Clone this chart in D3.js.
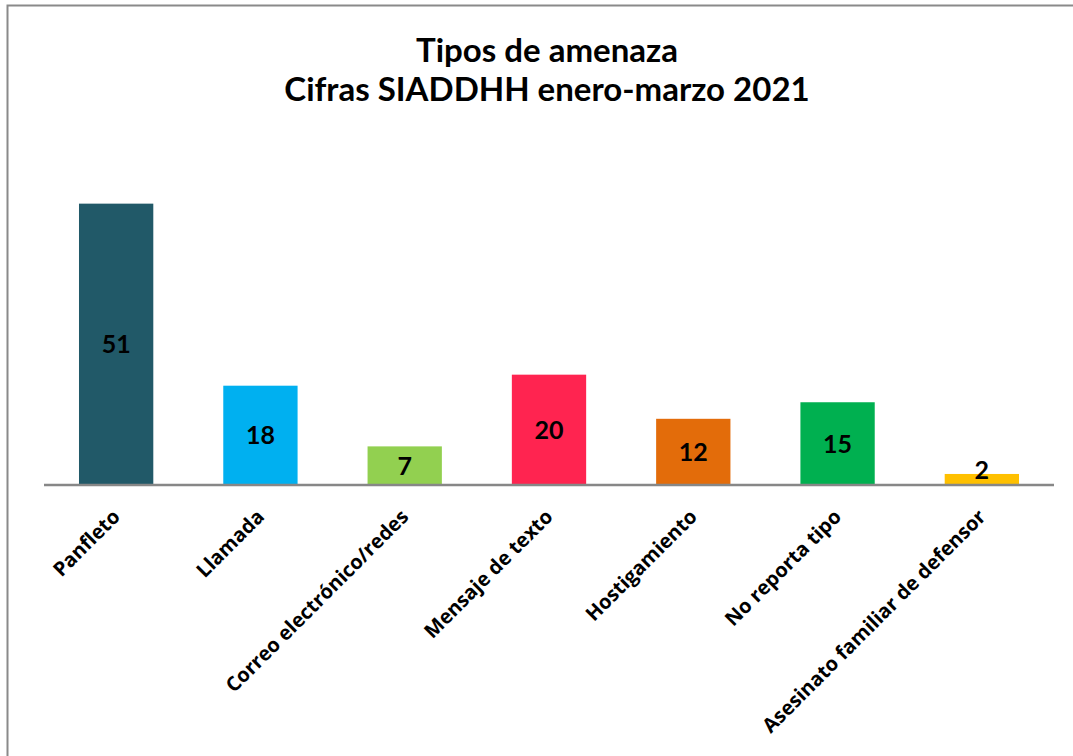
<!DOCTYPE html>
<html>
<head>
<meta charset="utf-8">
<script src="https://cdn.jsdelivr.net/npm/d3@7"></script>
<style>
  body { margin: 0; background: #fff; }
  svg { display: block; }
</style>
</head>
<body>
<div id="chart"></div>
<script>
// data
var categories = ["Panfleto", "Llamada", "Correo electrónico/redes", "Mensaje de texto",
    "Hostigamiento", "No reporta tipo", "Asesinato familiar de defensor"];
var values = [51, 18, 7, 20, 12, 15, 2];
var barColors = ["#215968", "#00b0f0", "#92d050", "#ff2450", "#e36c0a", "#00b050", "#ffc000"];
var titleLines = ["Tipos de amenaza", "Cifras SIADDHH enero-marzo 2021"];

var W = 1073, H = 756;
var baseY = 485;

var svg = d3.select("#chart").append("svg")
    .attr("width", W)
    .attr("height", H);

svg.append("rect")
    .attr("width", W)
    .attr("height", H)
    .attr("fill", "#fff");

// chart area border (right and bottom edges are cropped off)
svg.append("rect")
    .attr("x", 7.5)
    .attr("y", 5.5)
    .attr("width", 1200)
    .attr("height", 900)
    .attr("fill", "none")
    .attr("stroke", "#8a8a8a")
    .attr("stroke-width", 2);

// title
svg.append("text")
    .attr("x", 547)
    .attr("y", 62)
    .attr("text-anchor", "middle")
    .style("font-family", "Lato, 'Open Sans', sans-serif")
    .style("font-weight", "bold")
    .style("font-size", "33px")
    .selectAll("tspan")
    .data(titleLines)
    .enter()
    .append("tspan")
    .attr("x", 547)
    .attr("dy", (d, i) => i === 0 ? 0 : 39)
    .text(d => d);

var xScale = d3.scaleBand()
    .domain(categories)
    .range([44, 1054])
    .paddingInner(0.485)
    .paddingOuter(0.2425);

var yScale = d3.scaleLinear()
    .domain([0, 60])
    .range([baseY, baseY - 331]);

var data = categories.map((c, i) => ({ cat: c, value: values[i], color: barColors[i] }));

svg.selectAll(".bar")
    .data(data)
    .enter()
    .append("rect")
    .attr("class", "bar")
    .attr("x", d => xScale(d.cat))
    .attr("y", d => yScale(d.value))
    .attr("width", xScale.bandwidth())
    .attr("height", d => yScale(0) - yScale(d.value))
    .attr("fill", d => d.color);

// value labels centred in bars, pushed up when the bar is too short
svg.selectAll(".val")
    .data(data)
    .enter()
    .append("text")
    .attr("class", "val")
    .attr("x", d => xScale(d.cat) + xScale.bandwidth() / 2)
    .attr("y", d => Math.min((yScale(d.value) + yScale(0)) / 2, baseY - 15))
    .attr("dy", "0.36em")
    .attr("text-anchor", "middle")
    .style("font-family", "Lato, sans-serif")
    .style("font-weight", "bold")
    .style("font-size", "25px")
    .attr("fill", "#000")
    .text(d => d.value);

// x axis
var bottomAxis = d3.axisBottom(xScale).tickSize(0).tickPadding(0);

var xAxis = svg.append("g")
    .attr("transform", `translate(0, ${baseY})`)
    .attr("font-family", null)
    .call(bottomAxis);

xAxis.select(".domain")
    .attr("d", "M44,0H1054")
    .attr("stroke", "#878787")
    .attr("stroke-width", 2.5);

xAxis.selectAll(".tick text")
    .attr("y", 0)
    .attr("dy", 0)
    .attr("text-anchor", "end")
    .attr("transform", "translate(5, 33) rotate(-45)")
    .style("font-family", "'Open Sans', sans-serif")
    .style("font-weight", "bold")
    .style("font-size", "20px")
    .attr("fill", "#000");
</script>
</body>
</html>
